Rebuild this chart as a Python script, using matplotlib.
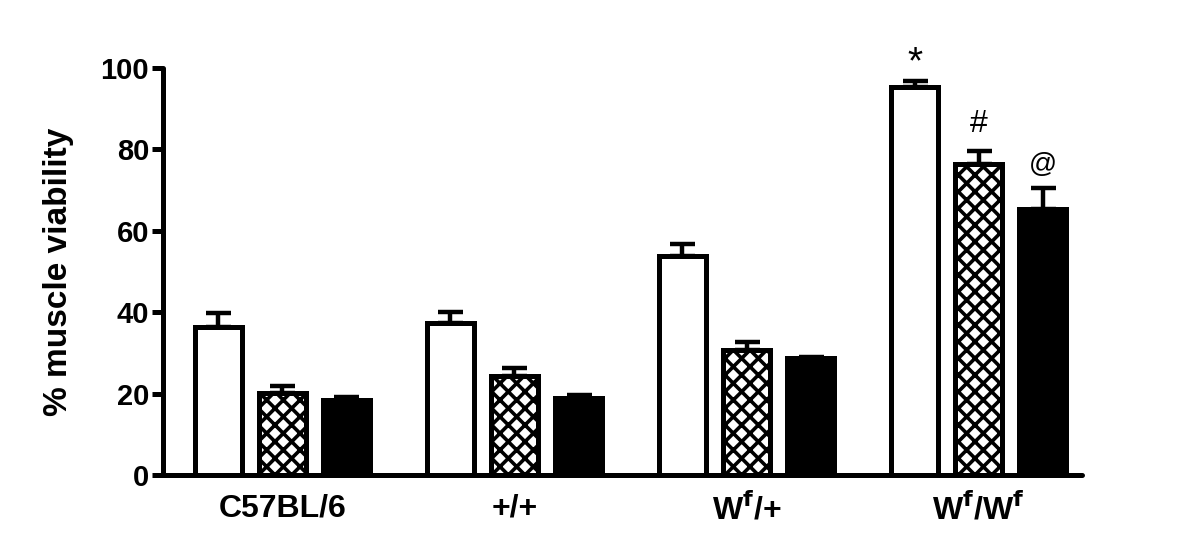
import matplotlib
matplotlib.use("Agg")
import matplotlib.pyplot as plt
import numpy as np

plt.rcParams['font.family'] = ['Liberation Sans', 'DejaVu Sans']
plt.rcParams['hatch.linewidth'] = 2.6

categories = ["C57BL/6", "+/+", "W$^\\mathbf{f}$/+", "W$^\\mathbf{f}$/W$^\\mathbf{f}$"]
white_vals = [36.4, 37.3, 53.8, 95.3]
white_err = [3.4, 2.7, 2.9, 1.6]
hatch_vals = [20.1, 24.3, 30.7, 76.5]
hatch_err = [1.8, 2.0, 2.0, 3.2]
black_vals = [18.4, 18.9, 28.8, 65.4]
black_err = [0.8, 0.7, 0.1, 5.0]
annotations = ["*", "#", "@"]
yticks = [0, 20, 40, 60, 80, 100]

fig = plt.figure(figsize=(12, 5.4), dpi=100)
ax = fig.add_axes([0.1358, 0.1204, 0.7659, 0.7537])

x = np.arange(len(categories))
step = 0.276
width = 0.2
lw_edge = 3.6
err_kw = dict(elinewidth=3.2, capthick=3.2, capsize=9, ecolor='black')

series = [
    (white_vals, white_err, dict(facecolor='white', hatch=None)),
    (hatch_vals, hatch_err, dict(facecolor='white', hatch='xx')),
    (black_vals, black_err, dict(facecolor='black', hatch=None)),
]
for i, (vals, errs, style) in enumerate(series):
    pos = x + (i - 1) * step
    ax.bar(pos, vals, width=width, edgecolor='black', linewidth=lw_edge,
           facecolor=style['facecolor'], hatch=style['hatch'], zorder=3)
    ax.errorbar(pos, vals, yerr=[np.zeros(len(vals)), errs], fmt='none',
                zorder=2, **err_kw)

# significance marks on last group
last = len(categories) - 1
offsets = [5, 13.5, 12]
sizes = [28, 23, 20]
for i, (vals, errs, _) in enumerate(series):
    ax.annotate(annotations[i], xy=(x[last] + (i - 1) * step, vals[last] + errs[last]),
                xytext=(0, offsets[i]), textcoords='offset points',
                ha='center', va='baseline', fontsize=sizes[i])

ax.set_xlim(-0.515, 3.446)
ax.set_ylim(0, 100)
ax.set_yticks(yticks)
ax.set_xticks(x)
ax.set_xticklabels(categories, fontsize=23, fontweight='bold')
ax.tick_params(axis='x', length=0, pad=13)
ax.tick_params(axis='y', length=8, width=3.6, labelsize=21, pad=2)
for lab in ax.get_yticklabels():
    lab.set_fontweight('bold')
ax.spines['top'].set_visible(False)
ax.spines['right'].set_visible(False)
for s in ['left', 'bottom']:
    ax.spines[s].set_linewidth(3.6)
    ax.spines[s].set_capstyle('round')
ax.set_ylabel('% muscle viability', fontsize=24, fontweight='bold', labelpad=19)

fig.savefig('out.png', dpi=100)
